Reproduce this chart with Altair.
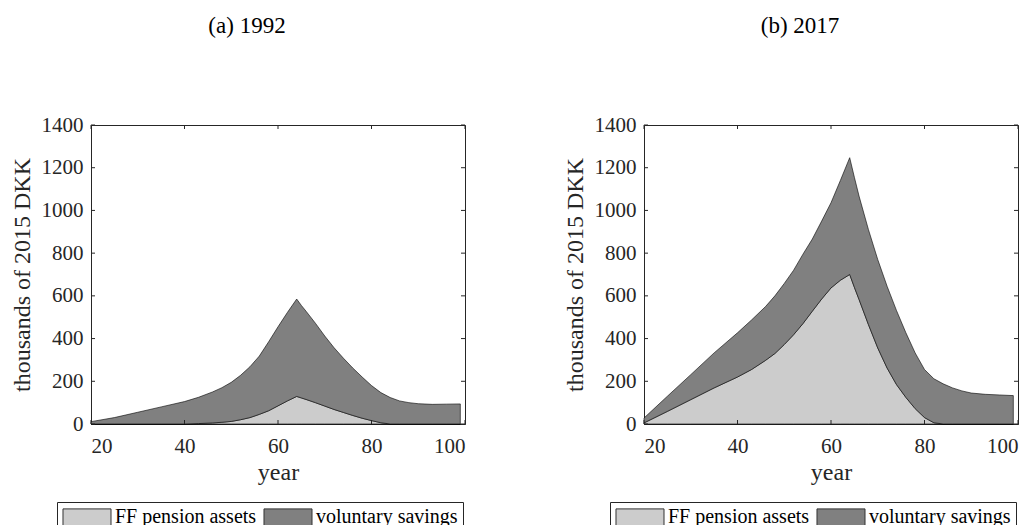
import pandas as pd
import altair as alt

AGES = [20, 25, 30, 35, 40, 43, 46, 48, 50, 52, 54, 56, 58, 60, 62, 64, 65, 66, 68,
        70, 72, 74, 76, 78, 80, 82, 84, 86, 88, 90, 93, 96, 99]

# (a) 1992
FF_1992 = [0, 0, 0, 0, 0, 2, 5, 8, 12, 20, 30, 45, 62, 85, 108, 129, 122, 115, 100,
           84, 68, 54, 40, 27, 16, 6, 0, 0, 0, 0, 0, 0, 0]
VOL_1992 = [11, 30, 55, 80, 105, 123, 145, 162, 183, 208, 238, 273, 323, 370, 414, 456, 433, 413, 372,
            328, 289, 254, 222, 193, 164, 141, 124, 108, 100, 95, 92, 93, 94]

# (b) 2017
FF_2017 = [5, 59, 114, 169, 220, 255, 298, 330, 372, 418, 470, 528, 585, 637, 673, 700, 640, 583, 466,
           356, 262, 185, 125, 72, 30, 6, 0, 0, 0, 0, 0, 0, 0]
VOL_2017 = [23, 71, 117, 164, 207, 232, 252, 270, 286, 302, 325, 338, 365, 399, 467, 547, 515, 484, 445,
            414, 383, 347, 303, 261, 225, 206, 188, 169, 155, 145, 139, 136, 133]

SERIES = ["FF pension assets", "voluntary savings"]
COLOURS = ["#cccccc", "#808080"]
X_TICKS = [20, 40, 60, 80, 100]
Y_TICKS = [0, 200, 400, 600, 800, 1000, 1200, 1400]

FONT = "Liberation Serif"
INK = "#262626"
W, H = 374, 299
TICK = 4


def load_panel(ff, vol):
    df = pd.DataFrame({"age": AGES, SERIES[0]: ff, SERIES[1]: vol})
    df = df.melt("age", var_name="series", value_name="value")
    df["rank"] = df["series"].map({s: i for i, s in enumerate(SERIES)})
    return df


def panel(title, ff, vol):
    xscale = alt.Scale(domain=[20, 100], nice=False, zero=False)
    yscale = alt.Scale(domain=[0, 1400], nice=False)

    areas = alt.Chart(load_panel(ff, vol)).mark_area(
        stroke="black", strokeWidth=0.6, interpolate="linear", opacity=1
    ).encode(
        x=alt.X("age:Q", scale=xscale, title="year",
                axis=alt.Axis(values=X_TICKS, format="d", labelPadding=11, titlePadding=4)),
        y=alt.Y("value:Q", stack="zero", scale=yscale, title="thousands of 2015 DKK",
                axis=alt.Axis(values=Y_TICKS, format="d", labelPadding=8, titlePadding=7)),
        color=alt.Color("series:N", scale=alt.Scale(domain=SERIES, range=COLOURS),
                        legend=alt.Legend(
                            title=None, orient="none", legendX=-34, legendY=377,
                            direction="horizontal", columns=2, columnPadding=4,
                            symbolType="M-2.86,-1L2.86,-1L2.86,1L-2.86,1Z",
                            symbolSize=282, symbolOffset=15, labelOffset=18,
                            symbolStrokeColor="#333333", symbolStrokeWidth=1,
                            symbolOpacity=1, labelFont=FONT, labelFontSize=20,
                            labelColor="black", labelLimit=400, strokeColor=INK,
                            fillColor="white", padding=5)),
        order=alt.Order("rank:Q"),
    )

    # MATLAB style ticks pointing into the box
    yt = pd.DataFrame({"value": Y_TICKS})
    xt = pd.DataFrame({"age": X_TICKS})
    left = alt.Chart(yt).mark_rule(color=INK).encode(
        y=alt.Y("value:Q", scale=yscale), x=alt.value(0), x2=alt.value(TICK))
    right = alt.Chart(yt).mark_rule(color=INK).encode(
        y=alt.Y("value:Q", scale=yscale), x=alt.value(W - TICK), x2=alt.value(W))
    bottom = alt.Chart(xt).mark_rule(color=INK).encode(
        x=alt.X("age:Q", scale=xscale), y=alt.value(H - TICK), y2=alt.value(H))
    top = alt.Chart(xt).mark_rule(color=INK).encode(
        x=alt.X("age:Q", scale=xscale), y=alt.value(0), y2=alt.value(TICK))

    return alt.layer(areas, left, right, bottom, top).properties(
        width=W, height=H,
        title=alt.TitleParams(title, font=FONT, fontSize=23, fontWeight="normal",
                              color="black", offset=76, dx=-31, anchor="middle"),
    )


chart = alt.hconcat(
    panel("(a) 1992", FF_1992, VOL_1992),
    panel("(b) 2017", FF_2017, VOL_2017),
    spacing=96,
).resolve_scale(
    color="independent"
).resolve_legend(
    color="independent"
).properties(
    padding={"left": 1, "top": 6, "right": 5, "bottom": 5}
).configure_view(
    stroke=INK, strokeWidth=1
).configure_axis(
    labelFont=FONT, labelFontSize=21, labelColor=INK,
    titleFont=FONT, titleFontSize=24, titleFontWeight="normal", titleColor=INK,
    ticks=False, grid=False, domainColor=INK, zindex=1,
)

chart.save("out.html", embed_options={"renderer": "svg", "actions": False})
